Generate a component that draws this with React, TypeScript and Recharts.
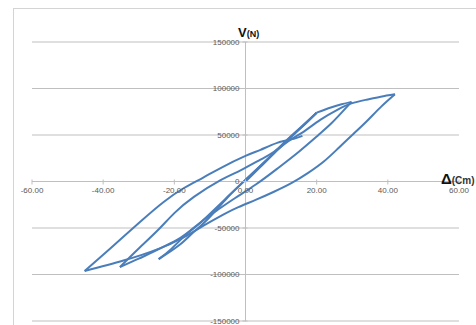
import { LineChart, Line, XAxis, YAxis, ReferenceLine, ReferenceDot } from "recharts";

// tick values
const xTicks = [-60, -40, -20, 0, 20, 40, 60];
const yTicks = [-150000, -100000, -50000, 0, 50000, 100000, 150000];

// hysteresis branches: [displacement (cm), shear (N)], drawn in this order
const initialLoad = [[0, 0], [4, 15000], [8, 30000], [12, 45000], [16, 59000], [20, 74000]];
const unload1 = [[20, 74000], [16, 60000], [12, 45500], [6, 23500], [0, 2000], [-5, -17000], [-11, -42000], [-14.5, -54000], [-18.5, -68000], [-24.4, -83400]];
const reload1 = [[-24.4, -83400], [-21, -73000], [-16.4, -56000], [-12.6, -44000], [-6, -20000], [0, 1500], [6, 23500], [12, 46000], [16, 59500], [20, 74000]];
const reload1Top = [[20, 74000], [24, 79500], [27, 83000], [29.8, 85600]];
const unload2 = [[29.8, 85600], [27, 74000], [24, 62000], [20.5, 50000], [15, 32000], [9, 14000], [3, -3000], [-3, -18000], [-8, -31000], [-12, -42000], [-16.4, -55500], [-20, -64500], [-24.8, -73400], [-30, -83000], [-35.3, -92000]];
const reload2 = [[-35.3, -92000], [-30, -72000], [-24.8, -53000], [-20, -34000], [-14.5, -16500], [-7, 1500], [-1.4, 12000], [4.2, 23500], [8, 32000], [12.5, 44500], [16.4, 53700], [21, 66300], [25.8, 77100], [29.8, 84000], [34, 88000], [38, 91200], [42, 93800]];
const unload3 = [[42, 93800], [38, 80000], [34, 64500], [30, 50000], [26, 35500], [22, 21500], [17.5, 9000], [13, -1500], [8, -11000], [3, -19500], [-2, -27500], [-6, -35000], [-11.8, -47500], [-17.4, -60000], [-24.8, -73000], [-34.3, -85000], [-45.2, -96300]];
const reload3 = [[-45.2, -96300], [-38, -72000], [-29.5, -43000], [-23, -22000], [-17.3, -7000], [-12, 4000], [-7, 14500], [0, 27500], [4.2, 34000], [8.9, 41500], [13.6, 46000], [16, 49000]];

const branches = [initialLoad, unload1, reload1, reload1Top, unload2, reload2, unload3, reload3];

const gridColor = "#bfbfbf";
const labelColor = "#595959";
const lineColor = "#4a7ebb";
const font = "'Liberation Sans', Arial, sans-serif";

const TickMark = (props: any) => {
  const { cx, cy, vertical } = props;
  if (cx == null || cy == null) return null;
  return vertical ? (
    <line x1={cx} y1={cy - 2} x2={cx} y2={cy + 3} stroke={gridColor} />
  ) : (
    <line x1={cx - 3} y1={cy} x2={cx + 2} y2={cy} stroke={gridColor} />
  );
};

export default function App() {
  return (
    <div style={{ position: "absolute", left: 0, top: 0, width: 476, height: 325, overflow: "hidden", background: "#fff" }}>
      <div style={{ position: "absolute", left: 13, top: 8, width: 480, height: 340, border: "1px solid #d4d4d4" }} />
      <LineChart
        width={476}
        height={325}
        margin={{ top: 42, right: 17, left: 32, bottom: 4 }}
        style={{ position: "absolute", left: 0, top: 0, fontFamily: font }}
      >
        <XAxis type="number" dataKey="x" domain={[-60, 60]} ticks={xTicks} hide allowDuplicatedCategory={false} />
        <YAxis type="number" domain={[-150000, 150000]} ticks={yTicks} hide />
        {yTicks.map((t) => (
          <ReferenceLine key={"g" + t} y={t} stroke={gridColor} strokeWidth={1} />
        ))}
        <ReferenceLine x={0} stroke={gridColor} strokeWidth={1} />
        {xTicks.map((t) => (
          <ReferenceDot
            key={"xt" + t}
            x={t}
            y={0}
            r={0}
            shape={(p: any) => <TickMark {...p} vertical />}
            label={{ value: t.toFixed(2), position: "bottom", offset: 6, fill: labelColor, fontSize: 8, fontFamily: font }}
          />
        ))}
        {yTicks.map((t) => (
          <ReferenceDot
            key={"yt" + t}
            x={0}
            y={t}
            r={0}
            shape={(p: any) => <TickMark {...p} />}
            label={{ value: String(t), position: "left", offset: 6, fill: labelColor, fontSize: 8, fontFamily: font }}
          />
        ))}
        {branches.map((b, i) => (
          <Line
            key={"b" + i}
            data={b.map(([x, v]) => ({ x, v }))}
            type="natural"
            dataKey="v"
            stroke={lineColor}
            strokeWidth={2}
            strokeLinejoin="round"
            dot={false}
            activeDot={false}
            isAnimationActive={false}
          />
        ))}
      </LineChart>
      <div style={{ position: "absolute", left: 238, top: 23, fontFamily: font, fontWeight: "bold", color: "#111", whiteSpace: "nowrap" }}>
        <span style={{ fontSize: 13 }}>V</span>
        <span style={{ fontSize: 9 }}>(N)</span>
      </div>
      <div style={{ position: "absolute", left: 441, top: 170, fontFamily: font, color: "#111", whiteSpace: "nowrap" }}>
        <span style={{ fontSize: 15, fontWeight: "bold" }}>Δ</span>
        <span style={{ fontSize: 10, fontWeight: "bold", color: "#333" }}>(Cm)</span>
      </div>
    </div>
  );
}
